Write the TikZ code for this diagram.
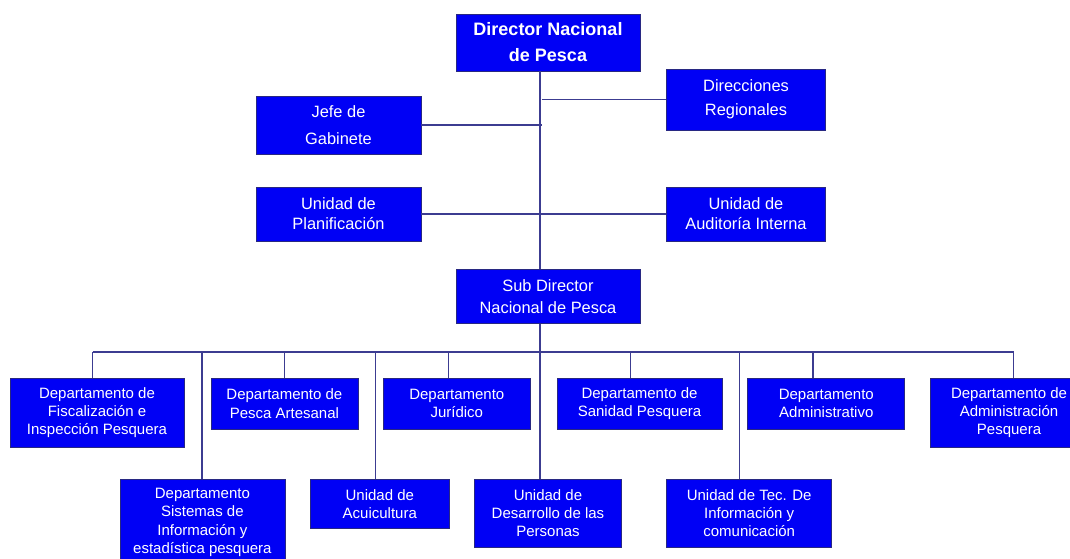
\documentclass[tikz,border=0pt]{standalone}
\usepackage{fontspec}
\setmainfont{Liberation Sans}
\definecolor{boxblue}{RGB}{0,0,245}
\definecolor{boxedge}{RGB}{40,40,130}
\definecolor{linecol}{RGB}{60,60,145}
\tikzset{
  orgbox/.style={draw=boxedge, line width=0.7pt, fill=boxblue, text=white, align=center, inner sep=0pt, rectangle},
  deptfont/.style={font={\fontsize{15}{18.3}\selectfont}},
  midfont/.style={font={\fontsize{16.4}{#1}\selectfont}},
  conn/.style={draw=linecol, line width=1.4pt}
}
\begin{document}
\begin{tikzpicture}[x=1pt,y=-1pt]
\fill[white] (0,0) rectangle (1070,559);
\useasboundingbox (0,0) rectangle (1070,559);
\clip (0,0) rectangle (1070,559);

% top part
\node[orgbox, minimum width=184pt, minimum height=57pt, font={\fontsize{18}{26}\selectfont\bfseries}] (dir) at (548,42.5) {Director Nacional\\de Pesca};
\node[orgbox, minimum width=159pt, minimum height=61pt, midfont=24] (dirreg) at (746,99.5) {Direcciones\\Regionales};
\node[orgbox, minimum width=165pt, minimum height=58pt, midfont=27] (jefe) at (338.5,125) {Jefe de\\Gabinete};
\node[orgbox, minimum width=165pt, minimum height=54pt, midfont=20] (plan) at (338.5,214) {Unidad de\\Planificación};
\node[orgbox, minimum width=159pt, minimum height=54pt, midfont=20] (aud) at (746,214) {Unidad de\\Auditoría Interna};
\node[orgbox, minimum width=184pt, minimum height=54pt, midfont=21.7] (sub) at (548,296.3) {Sub Director\\Nacional de Pesca};

% top row departments
\node[orgbox, deptfont, minimum width=174pt, minimum height=69pt] (fisc) at (97,412.5) {Departamento de\\Fiscalización e\\Inspección Pesquera};
\node[orgbox, deptfont, minimum width=147pt, minimum height=51pt] (pesca) at (284.4,403.5) {Departamento de\\Pesca Artesanal};
\node[orgbox, deptfont, minimum width=147pt, minimum height=51pt] (jur) at (456.8,403.5) {Departamento\\Jurídico};
\node[orgbox, deptfont, minimum width=165pt, minimum height=51pt] (san) at (639.5,403.5) {Departamento de\\Sanidad Pesquera};
\node[orgbox, deptfont, minimum width=157pt, minimum height=51pt] (adm) at (826.3,403.5) {Departamento\\Administrativo};
\node[orgbox, deptfont, minimum width=158pt, minimum height=69pt] (admp) at (1009,412.5) {Departamento de\\Administración\\Pesquera};

% bottom row
\node[orgbox, deptfont, minimum width=165pt, minimum height=87pt] (sist) at (202.4,522.5) {Departamento\\Sistemas de\\Información y\\estadística pesquera};
\node[orgbox, deptfont, minimum width=138.4pt, minimum height=49.7pt] (acui) at (379.8,503.8) {Unidad de\\Acuicultura};
\node[orgbox, deptfont, minimum width=147pt, minimum height=68.3pt] (desa) at (548,513.2) {Unidad de\\Desarrollo de las\\Personas};
\node[orgbox, deptfont, minimum width=165pt, minimum height=68.3pt] (tec) at (749.2,513.2) {Unidad de Tec. De\\Información y\\comunicación};

% trunk coordinates
\coordinate (tx) at (540,0);
\coordinate (tj) at (542,0);

% connectors upper
\draw[conn] (dir.south -| tx) -- (sub.north -| tx);
\draw[conn] (dirreg.west) -- (dirreg.west -| tj);
\draw[conn] (jefe.east) -- (jefe.east -| tj);
\draw[conn] (plan.east) -- (aud.west);
\draw[conn] (sub.south -| tx) -- (desa.north -| tx);

% bus
\coordinate (b1) at (92.5,352);
\coordinate (b2) at (202,352);
\coordinate (b3) at (284.4,352);
\coordinate (b4) at (375.3,352);
\coordinate (b5) at (448.3,352);
\coordinate (b7) at (630.5,352);
\coordinate (b8) at (739.4,352);
\coordinate (b9) at (813,352);
\coordinate (b10) at (1013.5,352);
\draw[conn] (b1) -- (b10);
\draw[conn] (b1) -- (b1 |- fisc.north);
\draw[conn] (b2) -- (b2 |- sist.north);
\draw[conn] (b3) -- (b3 |- pesca.north);
\draw[conn] (b4) -- (b4 |- acui.north);
\draw[conn] (b5) -- (b5 |- jur.north);
\draw[conn] (b7) -- (b7 |- san.north);
\draw[conn] (b8) -- (b8 |- tec.north);
\draw[conn] (b9) -- (b9 |- adm.north);
\draw[conn] (b10) -- (b10 |- admp.north);
\end{tikzpicture}
\end{document}
